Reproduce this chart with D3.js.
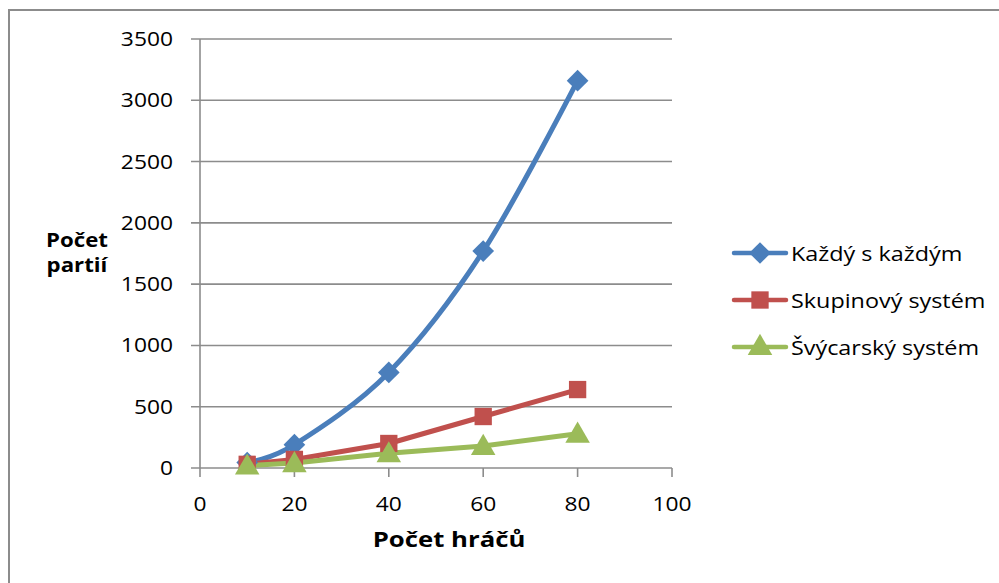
<!DOCTYPE html>
<html>
<head>
<meta charset="utf-8">
<script src="https://cdn.jsdelivr.net/npm/d3@7"></script>
<style>
  body { margin: 0; background: #fff; }
  svg text { font-family: "Open Sans", "Noto Sans", sans-serif; fill: #000; }
</style>
</head>
<body>
<div id="container"></div>
<script>
const players = [10, 20, 40, 60, 80];
const kazdySKazdym = [45, 190, 780, 1770, 3160];
const skupinovy = [30, 70, 200, 420, 640];
const svycarsky = [20, 40, 120, 180, 280];
const seriesNames = ["Každý s každým", "Skupinový systém", "Švýcarský systém"];
const xTicks = [0, 20, 40, 60, 80, 100];
const yTicks = [0, 500, 1000, 1500, 2000, 2500, 3000, 3500];

const width = 999;
const height = 583;
const stretch = 1.14;
const grey = "#8c8c8c";
const colors = ["#4a7ebb", "#c0504d", "#9bbb59"];

const svg = d3.select("#container")
  .append("svg")
  .attr("width", width)
  .attr("height", height);

// outer chart frame (only left/top visible)
svg.append("path")
  .attr("d", "M9,600 L9,10 L1010,10")
  .attr("fill", "none")
  .attr("stroke", grey)
  .attr("stroke-width", 2);

const xScale = d3.scaleLinear().domain([0, 100]).range([200, 672]);
const yScale = d3.scaleLinear().domain([0, 3500]).range([468, 39]);

// gridlines
svg.append("g")
  .selectAll("line")
  .data(yTicks)
  .enter()
  .append("line")
  .attr("x1", xScale(0) - 9)
  .attr("x2", xScale(100))
  .attr("y1", (d) => yScale(d))
  .attr("y2", (d) => yScale(d))
  .attr("stroke", grey)
  .attr("stroke-width", 1.6);

// y axis line
svg.append("line")
  .attr("x1", xScale(0)).attr("x2", xScale(0))
  .attr("y1", yScale(3500)).attr("y2", yScale(0))
  .attr("stroke", grey)
  .attr("stroke-width", 1.6);

// x ticks
svg.append("g")
  .selectAll("line")
  .data(xTicks)
  .enter()
  .append("line")
  .attr("x1", (d) => xScale(d))
  .attr("x2", (d) => xScale(d))
  .attr("y1", yScale(0))
  .attr("y2", yScale(0) + 9)
  .attr("stroke", grey)
  .attr("stroke-width", 1.6);

function stretchedText(sel, x, y) {
  return sel.attr("transform", (d, i) => `translate(${x(d, i)},${y(d, i)}) scale(${stretch},1)`);
}

// y tick labels
stretchedText(
  svg.append("g").selectAll("text").data(yTicks).enter().append("text"),
  () => 173, (d) => yScale(d) + 7)
  .attr("text-anchor", "end")
  .attr("font-size", 20)
  .text((d) => d);

// x tick labels
stretchedText(
  svg.append("g").selectAll("text").data(xTicks).enter().append("text"),
  (d) => xScale(d), () => 511)
  .attr("text-anchor", "middle")
  .attr("font-size", 20)
  .text((d) => d);

// axis titles
svg.append("text")
  .attr("transform", `translate(449,547) scale(1.17,1)`)
  .attr("text-anchor", "middle")
  .attr("font-size", 22)
  .attr("font-weight", "bold")
  .text("Počet hráčů");

const yTitle = svg.append("text")
  .attr("transform", `translate(77,247) scale(${stretch},1)`)
  .attr("text-anchor", "middle")
  .attr("font-size", 19.5)
  .attr("font-weight", "bold");
yTitle.append("tspan").attr("x", 0).attr("y", 0).text("Počet");
yTitle.append("tspan").attr("x", 0).attr("y", 25).text("partií");

// series
const series = [kazdySKazdym, skupinovy, svycarsky].map((values, i) => ({
  name: seriesNames[i],
  color: colors[i],
  curve: i === 0 ? d3.curveCardinal.tension(0) : d3.curveLinear,
  points: values.map((v, j) => ({ x: players[j], y: v })),
}));

const symbols = [d3.symbolDiamond2, d3.symbolSquare, d3.symbolTriangle];
const symbolSizes = [300, 300, 260];

series.forEach((s, i) => {
  const line = d3.line()
    .x((d) => xScale(d.x))
    .y((d) => yScale(d.y))
    .curve(s.curve);
  svg.append("path")
    .datum(s.points)
    .attr("d", line)
    .attr("fill", "none")
    .attr("stroke", s.color)
    .attr("stroke-width", 5)
    .attr("stroke-linejoin", "round")
    .attr("stroke-linecap", "round");
});

series.forEach((s, i) => {
  svg.append("g")
    .selectAll("path")
    .data(s.points)
    .enter()
    .append("path")
    .attr("d", d3.symbol().type(symbols[i]).size(symbolSizes[i]))
    .attr("transform", (d) => `translate(${xScale(d.x)},${yScale(d.y) + (i === 2 ? 2 : 0)})`)
    .attr("fill", s.color);
});

// legend
const legendRows = [253, 300, 347];
const legend = svg.append("g")
  .selectAll("g")
  .data(series)
  .enter()
  .append("g")
  .attr("transform", (d, i) => `translate(0,${legendRows[i]})`);

legend.append("line")
  .attr("x1", 734).attr("x2", 786)
  .attr("y1", 0).attr("y2", 0)
  .attr("stroke", (d) => d.color)
  .attr("stroke-width", 4.5)
  .attr("stroke-linecap", "round");

legend.append("path")
  .attr("d", (d, i) => d3.symbol().type(symbols[i]).size(symbolSizes[i])())
  .attr("transform", (d, i) => `translate(760,${i === 2 ? 1 : 0})`)
  .attr("fill", (d) => d.color);

legend.append("text")
  .attr("transform", `translate(791,8) scale(${stretch},1)`)
  .attr("font-size", 20.5)
  .text((d) => d.name);
</script>
</body>
</html>
